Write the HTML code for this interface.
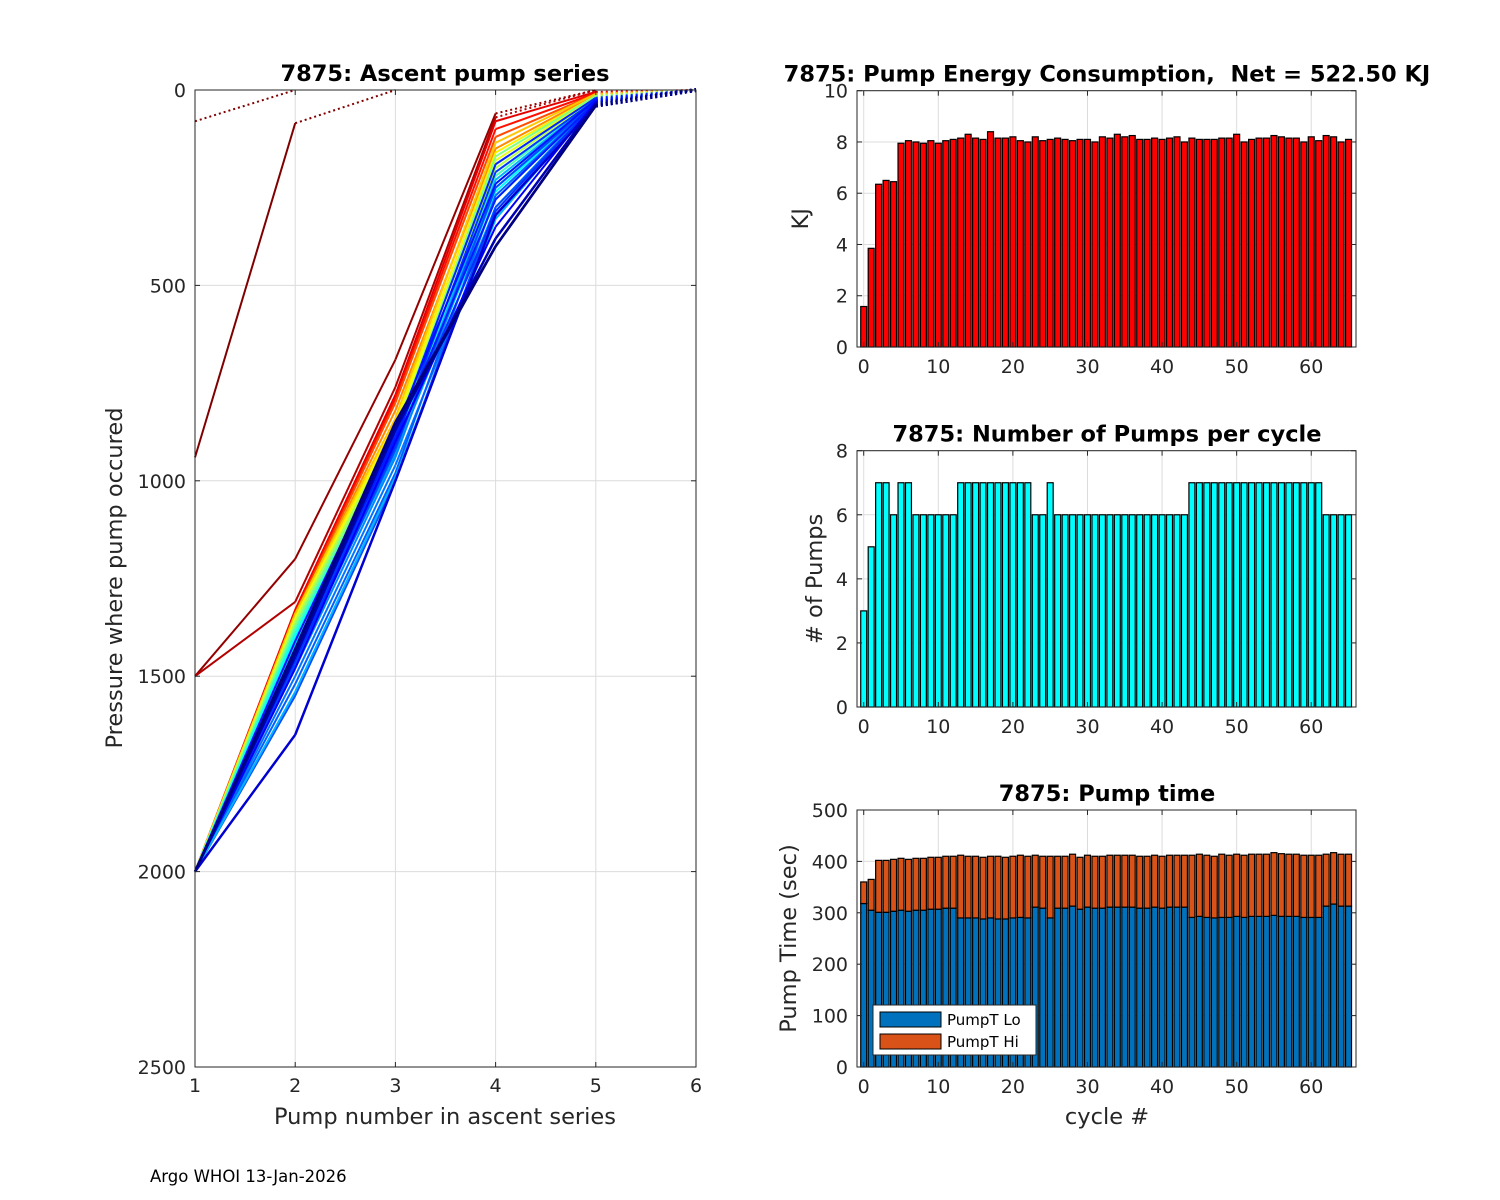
<!DOCTYPE html>
<html><head><meta charset="utf-8"><style>
body{margin:0;background:#fff;}
svg{display:block;font-family:"DejaVu Sans","Liberation Sans",sans-serif;}
text{white-space:pre;}
</style></head><body>
<svg id="fig" width="1500" height="1200" viewBox="0 0 1500 1200" xmlns="http://www.w3.org/2000/svg"></svg>
<script>
// ===== Left chart data: ascent pump series =====
const ascentProfiles = [
 [940,85,0],[80,0],[1500,1200,690,60,0],[1500,1310,760,70,0],
 [2000,1330,780,80,5,0],[2000,1335,790,100,8,0],[2000,1340,800,120,10,0],
 [2000,1345,820,150,12,0],[2000,1340,840,135,10,0],[2000,1350,850,160,15,0],
 [2000,1355,860,180,18,0],[2000,1360,870,200,20,0],[2000,1370,880,170,15,0],
 [2000,1380,890,220,22,0],[2000,1390,900,240,25,0],[2000,1400,900,260,28,0],
 [2000,1420,910,280,30,0],[2000,1440,920,230,25,0],[2000,1460,930,300,30,0],
 [2000,1480,940,250,30,0],[2000,1500,960,320,35,0],[2000,1520,980,270,30,0],
 [2000,1550,1000,300,35,0],[2000,1540,990,330,30,0],[2000,1450,900,210,25,0],
 [2000,1430,880,190,20,0],[2000,1470,920,250,28,0],[2000,1410,870,240,25,0],
 [2000,1440,890,280,30,0],[2000,1460,910,310,32,0],[2000,1480,900,350,30,0],
 [2000,1650,1000,320,40,0],[2000,1450,870,380,35,0],[2000,1440,860,400,40,0],
 [2000,1430,850,400,40,0]
];
const profileColorT = [
 0,0,0.02,0.05,0.1,0.14,0.2,0.26,0.32,0.36,0.4,0.45,0.5,0.55,0.6,0.63,0.66,0.7,0.72,
 0.74,0.76,0.78,0.8,0.7,0.82,0.84,0.8,0.86,0.85,0.83,0.88,0.92,0.95,0.98,1.0
];
const leftXTicks=[1,2,3,4,5,6];
const leftYTicks=[0,500,1000,1500,2000,2500];
// ===== Right charts data =====
const cycles=[];for(let i=0;i<=65;i++)cycles.push(i);
const energyKJ=[1.58,3.85,6.35,6.5,6.45,7.95,8.05,8.0,7.95,8.05,7.95,8.05,8.1,8.15,8.3,8.15,8.1,8.4,8.15,8.15,8.2,8.05,8.0,8.2,8.05,8.1,8.15,8.1,8.05,8.1,8.1,8.0,8.2,8.15,8.3,8.2,8.25,8.1,8.1,8.15,8.1,8.15,8.2,8.0,8.15,8.1,8.1,8.1,8.15,8.15,8.3,8.0,8.1,8.15,8.15,8.25,8.2,8.15,8.15,8.0,8.2,8.05,8.25,8.2,8.0,8.1];
const pumpCount=[3,5,7,7,6,7,7,6,6,6,6,6,6,7,7,7,7,7,7,7,7,7,7,6,6,7,6,6,6,6,6,6,6,6,6,6,6,6,6,6,6,6,6,6,7,7,7,7,7,7,7,7,7,7,7,7,7,7,7,7,7,7,6,6,6,6];
const pumpLo=[318,305,301,301,303,305,303,305,305,307,307,309,309,290,290,290,288,290,288,288,290,291,290,311,309,290,309,309,313,307,311,309,309,311,311,311,311,309,309,311,309,311,311,311,291,293,291,290,291,291,293,291,293,293,293,295,293,293,293,291,291,291,313,317,313,313];
const pumpTotal=[360,365,402,402,404,406,404,406,406,408,408,410,410,412,410,410,408,410,410,408,410,412,410,412,410,410,410,410,414,408,412,410,410,412,412,412,412,410,410,412,410,412,412,412,412,414,412,410,414,412,414,412,414,414,414,417,415,414,414,412,412,412,414,417,414,414];
const cycleTicks=[0,10,20,30,40,50,60];
const energyTicks=[0,2,4,6,8,10];
const pumpTicks=[0,2,4,6,8];
const timeTicks=[0,100,200,300,400,500];

const NS='http://www.w3.org/2000/svg';
const svg=document.getElementById('fig');
function mk(tag,attrs,parent,text){const e=document.createElementNS(NS,tag);for(const k in attrs)e.setAttribute(k,attrs[k]);if(text!==undefined)e.textContent=text;(parent||svg).appendChild(e);return e;}
function jet(t){t=1-t;
 function c(x){return Math.max(0,Math.min(1,x));}
 const v=t*4; const r=c(Math.min(v-1.5,-v+4.5)),g=c(Math.min(v-0.5,-v+3.5)),b=c(Math.min(v+0.5,-v+2.5));
 return 'rgb('+Math.round(r*255)+','+Math.round(g*255)+','+Math.round(b*255)+')';}

const TF=22.5, AF=22.5, KF=19;
// ===== Left axes =====
const L={x0:195,x1:696,y0:90,y1:1067};
const lx=v=>L.x0+(v-1)/5*(L.x1-L.x0);
const ly=v=>L.y0+v/2500*(L.y1-L.y0);
const gL=mk('g',{});


mk('rect',{x:L.x0,y:L.y0,width:L.x1-L.x0,height:L.y1-L.y0,fill:'#fff'},gL);
leftXTicks.forEach(t=>{const l=mk('line',{x1:lx(t),x2:lx(t),y1:L.y0,y2:L.y1,stroke:'#dcdcdc','stroke-width':1},gL);});
leftYTicks.forEach(t=>{const l=mk('line',{x1:L.x0,x2:L.x1,y1:ly(t),y2:ly(t),stroke:'#dcdcdc','stroke-width':1},gL);});
ascentProfiles.forEach((p,i)=>{
 const col=jet(profileColorT[i]);const w=profileColorT[i]>0.9?2.5:2;
 for(let k=0;k<p.length-1;k++){
  const last=(k===p.length-2);
  const seg=mk('line',{x1:lx(k+1),y1:ly(p[k]),x2:lx(k+2),y2:ly(p[k+1]),stroke:col,'stroke-width':last&&profileColorT[i]>0.9?4:w,'stroke-dasharray':last?'2,3':'none'},gL);
  
  
 }
});
mk('rect',{x:L.x0,y:L.y0,width:L.x1-L.x0,height:L.y1-L.y0,fill:'none',stroke:'#262626','stroke-width':1},gL);
leftXTicks.forEach(t=>{mk('line',{x1:lx(t),x2:lx(t),y1:L.y1,y2:L.y1-5,stroke:'#262626'},gL);mk('line',{x1:lx(t),x2:lx(t),y1:L.y0,y2:L.y0+5,stroke:'#262626'},gL);
 const tx=mk('text',{x:lx(t),y:L.y1+25,'text-anchor':'middle','font-size':KF,fill:'#262626'},gL,String(t));});
leftYTicks.forEach(t=>{mk('line',{x1:L.x0,x2:L.x0+5,y1:ly(t),y2:ly(t),stroke:'#262626'},gL);mk('line',{x1:L.x1,x2:L.x1-5,y1:ly(t),y2:ly(t),stroke:'#262626'},gL);
 const tx=mk('text',{x:L.x0-9,y:ly(t)+7,'text-anchor':'end','font-size':KF,fill:'#262626'},gL,String(t));});
let t1=mk('text',{x:445,y:81,'text-anchor':'middle','font-size':TF,'font-weight':'bold',fill:'#000'},gL,'7875: Ascent pump series');
let t2=mk('text',{x:445,y:1124,'text-anchor':'middle','font-size':AF,fill:'#262626'},gL,'Pump number in ascent series');
let t3=mk('text',{x:0,y:0,'text-anchor':'middle','font-size':AF,fill:'#262626',transform:'translate(122,578) rotate(-90)'},gL,'Pressure where pump occured');

// ===== Right bar charts =====
const RX0=857,RX1=1356,XMIN=-0.9,XMAX=66;
const rx=v=>RX0+(v-XMIN)/(XMAX-XMIN)*(RX1-RX0);
const bw=0.8*(RX1-RX0)/(XMAX-XMIN);
function barAxes(name,y0,y1,ymax,ticks,title,ylabel,xlabel){
 const g=mk('g',{});
 
 
 const sy=v=>y1-v/ymax*(y1-y0);
 mk('rect',{x:RX0,y:y0,width:RX1-RX0,height:y1-y0,fill:'#fff'},g);
 cycleTicks.forEach(t=>mk('line',{x1:rx(t),x2:rx(t),y1:y0,y2:y1,stroke:'#dcdcdc'},g));
 ticks.forEach(t=>mk('line',{x1:RX0,x2:RX1,y1:sy(t),y2:sy(t),stroke:'#dcdcdc'},g));
 const ax={g,sy,y0,y1};
 ax.finish=function(){
  mk('rect',{x:RX0,y:y0,width:RX1-RX0,height:y1-y0,fill:'none',stroke:'#262626'},g);
  cycleTicks.forEach(t=>{mk('line',{x1:rx(t),x2:rx(t),y1:y1,y2:y1-5,stroke:'#262626'},g);mk('line',{x1:rx(t),x2:rx(t),y1:y0,y2:y0+5,stroke:'#262626'},g);
   const tx=mk('text',{x:rx(t),y:y1+26,'text-anchor':'middle','font-size':KF,fill:'#262626'},g,String(t));});
  ticks.forEach(t=>{mk('line',{x1:RX0,x2:RX0+5,y1:sy(t),y2:sy(t),stroke:'#262626'},g);mk('line',{x1:RX1,x2:RX1-5,y1:sy(t),y2:sy(t),stroke:'#262626'},g);
   const tx=mk('text',{x:RX0-9,y:sy(t)+7,'text-anchor':'end','font-size':KF,fill:'#262626'},g,String(t));});
  const tt=mk('text',{x:1107,y:y0-9,'text-anchor':'middle','font-size':TF,'font-weight':'bold',fill:'#000'},g,title);
  const yl=mk('text',{x:0,y:0,'text-anchor':'middle','font-size':AF,fill:'#262626',transform:'translate('+(ylabel.x)+','+((y0+y1)/2)+') rotate(-90)'},g,ylabel.t);
  if(xlabel){const xl=mk('text',{x:1107,y:y1+57,'text-anchor':'middle','font-size':AF,fill:'#262626'},g,xlabel);}
 };
 return ax;
}
function bar(ax,x,v0,v1,fill,name){
 const r=mk('rect',{x:rx(x)-bw/2,y:ax.sy(v1),width:bw,height:ax.sy(v0)-ax.sy(v1),fill:fill,stroke:'#000','stroke-width':1.2},ax.g);
 
 
}
const A1=barAxes('energy-chart',90.7,347,10,energyTicks,'7875: Pump Energy Consumption,  Net = 522.50 KJ',{x:808,t:'KJ'});
cycles.forEach((c,i)=>bar(A1,c,0,energyKJ[i],'#ff0000','energy-bar'));
A1.finish();
const A2=barAxes('pump-count-chart',450.7,707,8,pumpTicks,'7875: Number of Pumps per cycle',{x:822,t:'# of Pumps'});
cycles.forEach((c,i)=>bar(A2,c,0,pumpCount[i],'#00ffff','pump-count-bar'));
A2.finish();
const A3=barAxes('pump-time-chart',810,1067,500,timeTicks,'7875: Pump time',{x:796,t:'Pump Time (sec)'},'cycle #');
cycles.forEach((c,i)=>{bar(A3,c,0,pumpLo[i],'#0072bd','pump-lo-bar');bar(A3,c,pumpLo[i],pumpTotal[i],'#d95319','pump-hi-bar');});
A3.finish();
const lg=mk('g',{},A3.g);


mk('rect',{x:873,y:1005,width:163,height:50,fill:'#fff',stroke:'#262626'},lg);
mk('rect',{x:880,y:1012,width:61,height:15,fill:'#0072bd',stroke:'#000'},lg);
mk('rect',{x:880,y:1034,width:61,height:15,fill:'#d95319',stroke:'#000'},lg);
let le1=mk('text',{x:947,y:1025,'font-size':15,fill:'#000'},lg,'PumpT Lo');
let le2=mk('text',{x:947,y:1047,'font-size':15,fill:'#000'},lg,'PumpT Hi');
let ft=mk('text',{x:150,y:1182,'font-size':16.5,fill:'#000'},svg,'Argo WHOI 13-Jan-2026');
</script>
</body></html>
